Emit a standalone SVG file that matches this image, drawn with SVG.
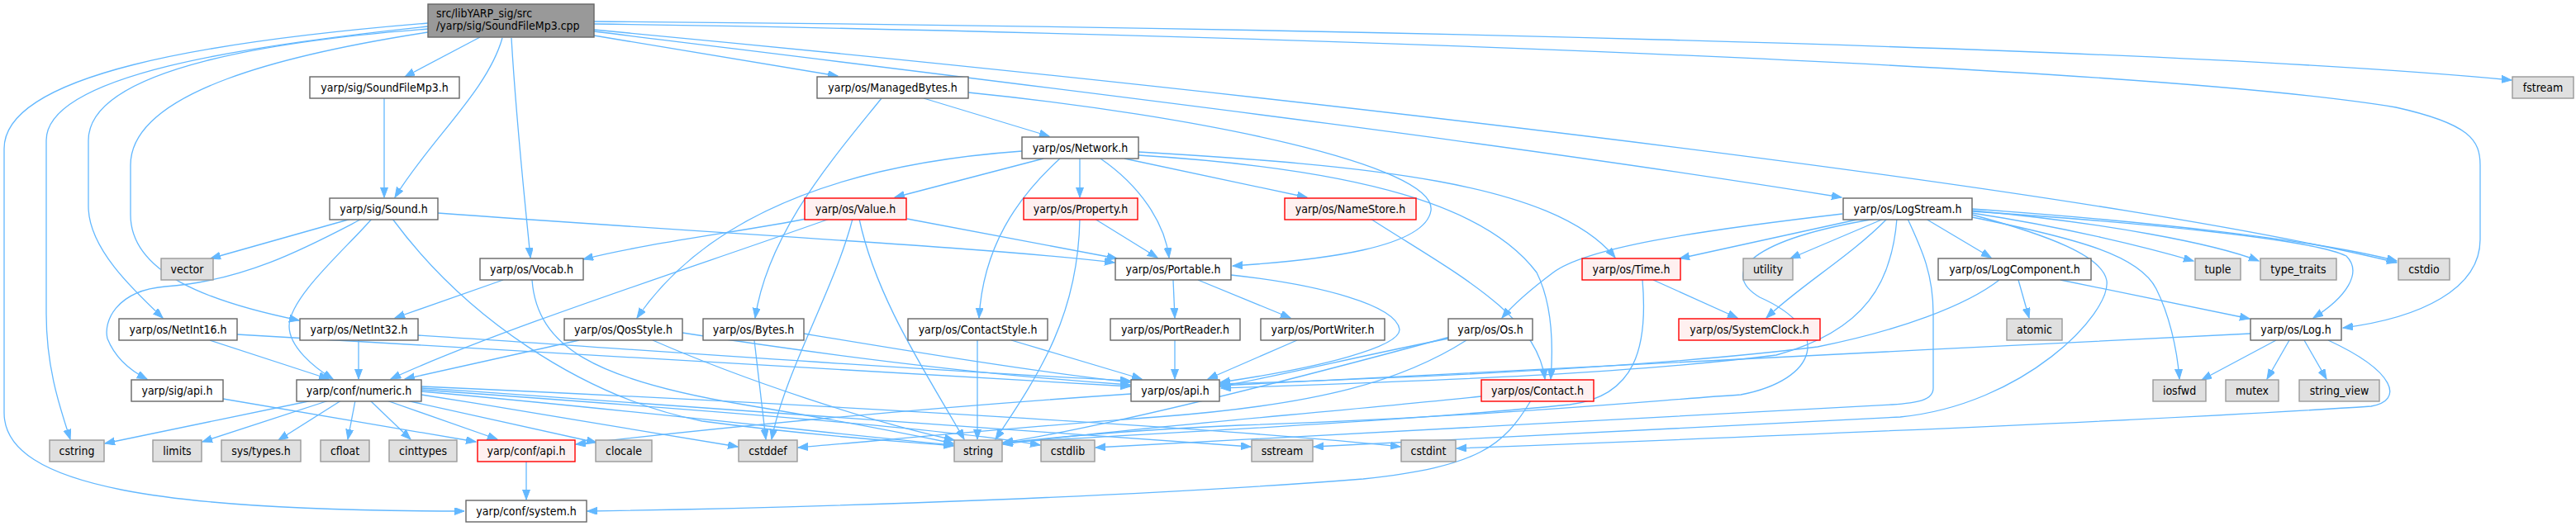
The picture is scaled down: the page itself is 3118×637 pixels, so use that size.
<svg xmlns="http://www.w3.org/2000/svg" width="3118" height="637" viewBox="0 0 3118 637">
<defs>
<marker id="ah" markerUnits="userSpaceOnUse" markerWidth="13" markerHeight="10" refX="12" refY="4.5" orient="auto" viewBox="0 0 13 10">
<path d="M0,0 L12,4.5 L0,9 z" fill="#63b8ff" stroke="#63b8ff" stroke-width="1"/>
</marker>
<style>
.e path{fill:none;stroke:#63b8ff;stroke-width:1.3;marker-end:url(#ah)}
.w rect{fill:#ffffff;stroke:#666666;stroke-width:1.4}
.g rect{fill:#e0e0e0;stroke:#999999;stroke-width:1.4}
.r rect{fill:#fff0f0;stroke:#ff0000;stroke-width:1.4}
.root rect{fill:#999999;stroke:#666666;stroke-width:1.4}
text{font-family:"DejaVu Sans Condensed","DejaVu Sans",sans-serif;font-stretch:condensed;font-size:14px;fill:#000000;text-anchor:middle}
.root text{text-anchor:start}
</style>
</defs>
<rect x="0" y="0" width="3118" height="637" fill="#ffffff"/>
<g id="edges" class="e">
<!-- root -->
<path d="M518,28 C250,50 5,90 5,180 L5,500 C5,590 200,619 562,619"/>
<path d="M518,32 C300,55 56,90 56,170 L56,380 C56,450 75,500 85,532"/>
<path d="M518,35 C350,48 107,80 107,170 L107,250 C107,300 160,350 197,385"/>
<path d="M518,39 C350,65 158,110 158,200 L158,260 C158,330 250,365 362,388"/>
<path d="M581,45 L490,93"/>
<path d="M608,46 C590,110 520,170 478,239"/>
<path d="M619,46 C625,150 636,250 642,312"/>
<path d="M719,43 L1014,92"/>
<path d="M719,38 C1300,110 1800,170 2229,239"/>
<path d="M719,36 C1400,100 2500,220 2901,318"/>
<path d="M719,29 C1500,40 2600,80 2900,130 C2990,150 3002,170 3002,200 L3002,290 C3002,350 2930,385 2836,397"/>
<path d="M719,26 C1500,32 2600,55 3040,97"/>
<!-- SoundFileMp3.h -->
<path d="M465,119 L465,239"/>
<!-- ManagedBytes -->
<path d="M1118,119 L1270,165"/>
<path d="M1067,119 C1010,190 930,280 914,385"/>
<path d="M1172,112 C1450,140 1740,200 1732,255 C1725,300 1600,315 1492,322"/>
<!-- Network -->
<path d="M1263,192 L1083,239"/>
<path d="M1237,183 C1000,200 850,270 771,385"/>
<path d="M1283,192 C1230,240 1190,300 1185,385"/>
<path d="M1307,192 L1307,239"/>
<path d="M1332,192 C1380,225 1410,270 1415,312"/>
<path d="M1361,192 L1582,239"/>
<path d="M1378,184 C1650,200 1880,220 1955,312"/>
<path d="M1378,188 C1650,205 1800,250 1860,330 C1880,370 1880,420 1877,459"/>
<!-- Sound.h -->
<path d="M425,265 L255,313"/>
<path d="M438,265 C380,295 300,340 200,347 C140,352 125,390 130,410 C140,435 160,450 178,459"/>
<path d="M450,265 C420,300 350,360 350,395 C350,420 380,445 403,459"/>
<path d="M475,265 C560,380 700,480 850,510 C1000,530 1100,535 1154,540"/>
<path d="M530,258 C900,285 1200,300 1349,318"/>
<!-- Vocab -->
<path d="M609,339 L478,385"/>
<path d="M644,339 C650,420 720,460 900,490 C1050,515 1120,530 1154,537"/>
<!-- Value -->
<path d="M976,265 C900,280 780,295 706,314"/>
<path d="M1004,265 C850,320 600,400 473,459"/>
<path d="M1032,265 C1010,350 950,450 934,532"/>
<path d="M1040,265 C1060,360 1120,450 1167,532"/>
<path d="M1098,265 L1352,313"/>
<!-- Property -->
<path d="M1307,265 C1305,380 1260,450 1205,532"/>
<path d="M1325,265 L1401,312"/>
<!-- NameStore -->
<path d="M1659,265 C1760,330 1860,380 1870,459"/>
<!-- LogStream -->
<path d="M2230,259 C2050,280 1920,300 1880,330 C1860,345 1835,365 1818,385"/>
<path d="M2252,265 L2033,313"/>
<path d="M2280,265 L2167,313"/>
<path d="M2270,265 C2120,290 2080,330 2130,360 C2220,400 2200,460 2107,478 C2000,485 1800,505 1500,515 C1350,522 1250,532 1214,537"/>
<path d="M2284,265 C2240,310 2180,345 2138,385"/>
<path d="M2296,265 C2290,340 2260,400 2150,430 C1950,455 1700,462 1478,470"/>
<path d="M2309,265 C2325,300 2340,330 2340,380 L2340,470 C2340,485 2320,488 2290,490 C2000,505 1600,528 1326,542"/>
<path d="M2331,265 L2410,312"/>
<path d="M2387,258 C2500,275 2600,300 2655,316"/>
<path d="M2387,255 C2550,270 2680,295 2734,316"/>
<path d="M2387,253 C2600,268 2800,290 2901,316"/>
<path d="M2387,256 C2600,270 2800,290 2840,310 C2860,330 2840,360 2800,385"/>
<path d="M2387,263 C2520,290 2590,310 2610,350 C2625,380 2635,420 2638,459"/>
<path d="M2387,260 C2480,285 2545,310 2550,340 C2555,380 2450,490 2300,505 C2000,520 1750,535 1590,541"/>
<!-- Portable -->
<path d="M1420,339 L1422,385"/>
<path d="M1450,339 L1562,385"/>
<path d="M1490,333 C1600,345 1690,370 1694,399 C1695,420 1600,445 1477,463"/>
<!-- ContactStyle, PortReader, PortWriter -->
<path d="M1224,412 L1382,459"/>
<path d="M1183,412 L1183,532"/>
<path d="M1422,412 L1422,459"/>
<path d="M1570,412 L1462,459"/>
<!-- QosStyle -->
<path d="M701,412 L490,459"/>
<path d="M826,403 C1000,430 1200,455 1368,466"/>
<path d="M790,412 C900,460 1050,510 1155,533"/>
<!-- Bytes -->
<path d="M913,412 L927,532"/>
<path d="M973,404 C1100,425 1250,450 1368,463"/>
<!-- NetInt16 / NetInt32 -->
<path d="M254,412 L398,459"/>
<path d="M287,405 C700,430 1100,455 1368,468"/>
<path d="M434,412 L434,459"/>
<path d="M506,406 C800,425 1100,448 1368,461"/>
<!-- sig/api.h -->
<path d="M270,483 L576,535"/>
<!-- numeric -->
<path d="M378,485 L127,537"/>
<path d="M398,485 L245,535"/>
<path d="M413,485 L337,533"/>
<path d="M430,485 L421,532"/>
<path d="M448,485 L497,532"/>
<path d="M468,485 L602,532"/>
<path d="M492,485 L722,536"/>
<path d="M510,478 C650,500 800,525 893,541"/>
<path d="M510,474 C800,500 1000,525 1154,539"/>
<path d="M510,472 C900,500 1150,520 1259,539"/>
<path d="M510,470 C900,495 1300,525 1514,541"/>
<path d="M510,468 C1000,490 1500,520 1695,541"/>
<!-- os/api.h -->
<path d="M1369,477 C1100,495 850,520 697,538"/>
<!-- Contact -->
<path d="M1793,480 C1600,500 1350,520 1214,538"/>
<path d="M1853,485 C1820,540 1790,565 1650,580 C1400,600 1000,615 711,619"/>
<!-- conf/api.h -->
<path d="M637,559 L637,605"/>
<!-- Time -->
<path d="M2001,339 L2103,385"/>
<path d="M1988,339 C1995,420 1980,480 1900,490 C1700,510 1400,525 1214,536"/>
<!-- Os -->
<path d="M1753,410 C1650,430 1550,455 1477,468"/>
<path d="M1755,408 C1600,450 1350,515 1214,536"/>
<path d="M1775,412 C1700,460 1600,490 1400,505 C1200,520 1050,535 966,542"/>
<!-- Log -->
<path d="M2724,404 C2300,425 1800,450 1477,467"/>
<path d="M2755,412 L2665,460"/>
<path d="M2771,412 L2744,459"/>
<path d="M2789,412 L2816,459"/>
<path d="M2818,412 C2900,450 2910,485 2870,492 C2600,510 2100,530 1763,543"/>
<!-- LogComponent -->
<path d="M2443,339 L2456,385"/>
<path d="M2494,339 L2723,386"/>
<path d="M2420,339 C2380,370 2300,400 2200,420 C2000,445 1700,458 1477,465"/>
</g>
<g id="n_root" class="root"><rect x="518" y="5" width="201" height="40"/><text x="528" y="21">src/libYARP_sig/src</text><text x="528" y="36">/yarp/sig/SoundFileMp3.cpp</text></g>
<g id="n_sfmp3h" class="w"><rect x="375" y="93" width="181" height="26"/><text x="465.5" y="110.5">yarp/sig/SoundFileMp3.h</text></g>
<g id="n_managed" class="w"><rect x="989" y="93" width="183" height="26"/><text x="1080.5" y="110.5">yarp/os/ManagedBytes.h</text></g>
<g id="n_fstream" class="g"><rect x="3041" y="93" width="74" height="26"/><text x="3078" y="110.5">fstream</text></g>
<g id="n_network" class="w"><rect x="1237" y="166" width="141" height="26"/><text x="1307.5" y="183.5">yarp/os/Network.h</text></g>
<g id="n_sound" class="w"><rect x="399" y="240" width="131" height="26"/><text x="464.5" y="257.5">yarp/sig/Sound.h</text></g>
<g id="n_value" class="r"><rect x="974" y="240" width="123" height="26"/><text x="1035.5" y="257.5">yarp/os/Value.h</text></g>
<g id="n_property" class="r"><rect x="1239" y="240" width="138" height="26"/><text x="1308" y="257.5">yarp/os/Property.h</text></g>
<g id="n_namestore" class="r"><rect x="1555" y="240" width="159" height="26"/><text x="1634.5" y="257.5">yarp/os/NameStore.h</text></g>
<g id="n_logstream" class="w"><rect x="2231" y="240" width="156" height="26"/><text x="2309" y="257.5">yarp/os/LogStream.h</text></g>
<g id="n_vector" class="g"><rect x="195" y="313" width="63" height="26"/><text x="226.5" y="330.5">vector</text></g>
<g id="n_vocab" class="w"><rect x="581" y="313" width="125" height="26"/><text x="643.5" y="330.5">yarp/os/Vocab.h</text></g>
<g id="n_portable" class="w"><rect x="1350" y="313" width="140" height="26"/><text x="1420" y="330.5">yarp/os/Portable.h</text></g>
<g id="n_time" class="r"><rect x="1915" y="313" width="119" height="26"/><text x="1974.5" y="330.5">yarp/os/Time.h</text></g>
<g id="n_utility" class="g"><rect x="2110" y="313" width="60" height="26"/><text x="2140" y="330.5">utility</text></g>
<g id="n_logcomp" class="w"><rect x="2346" y="313" width="185" height="26"/><text x="2438.5" y="330.5">yarp/os/LogComponent.h</text></g>
<g id="n_tuple" class="g"><rect x="2657" y="313" width="55" height="26"/><text x="2684.5" y="330.5">tuple</text></g>
<g id="n_typetraits" class="g"><rect x="2736" y="313" width="92" height="26"/><text x="2782" y="330.5">type_traits</text></g>
<g id="n_cstdio" class="g"><rect x="2903" y="313" width="62" height="26"/><text x="2934" y="330.5">cstdio</text></g>
<g id="n_netint16" class="w"><rect x="144" y="386" width="143" height="26"/><text x="215.5" y="403.5">yarp/os/NetInt16.h</text></g>
<g id="n_netint32" class="w"><rect x="363" y="386" width="143" height="26"/><text x="434.5" y="403.5">yarp/os/NetInt32.h</text></g>
<g id="n_qos" class="w"><rect x="683" y="386" width="143" height="26"/><text x="754.5" y="403.5">yarp/os/QosStyle.h</text></g>
<g id="n_bytes" class="w"><rect x="851" y="386" width="122" height="26"/><text x="912" y="403.5">yarp/os/Bytes.h</text></g>
<g id="n_contactstyle" class="w"><rect x="1099" y="386" width="169" height="26"/><text x="1183.5" y="403.5">yarp/os/ContactStyle.h</text></g>
<g id="n_portreader" class="w"><rect x="1344" y="386" width="157" height="26"/><text x="1422.5" y="403.5">yarp/os/PortReader.h</text></g>
<g id="n_portwriter" class="w"><rect x="1526" y="386" width="150" height="26"/><text x="1601" y="403.5">yarp/os/PortWriter.h</text></g>
<g id="n_os" class="w"><rect x="1753" y="386" width="102" height="26"/><text x="1804" y="403.5">yarp/os/Os.h</text></g>
<g id="n_sysclock" class="r"><rect x="2032" y="386" width="171" height="26"/><text x="2117.5" y="403.5">yarp/os/SystemClock.h</text></g>
<g id="n_atomic" class="g"><rect x="2429" y="386" width="67" height="26"/><text x="2462.5" y="403.5">atomic</text></g>
<g id="n_log" class="w"><rect x="2724" y="386" width="110" height="26"/><text x="2779" y="403.5">yarp/os/Log.h</text></g>
<g id="n_sigapi" class="w"><rect x="159" y="460" width="111" height="26"/><text x="214.5" y="477.5">yarp/sig/api.h</text></g>
<g id="n_numeric" class="w"><rect x="359" y="460" width="151" height="26"/><text x="434.5" y="477.5">yarp/conf/numeric.h</text></g>
<g id="n_osapi" class="w"><rect x="1369" y="460" width="107" height="26"/><text x="1422.5" y="477.5">yarp/os/api.h</text></g>
<g id="n_contact" class="r"><rect x="1793" y="460" width="136" height="26"/><text x="1861" y="477.5">yarp/os/Contact.h</text></g>
<g id="n_iosfwd" class="g"><rect x="2606" y="460" width="64" height="26"/><text x="2638" y="477.5">iosfwd</text></g>
<g id="n_mutex" class="g"><rect x="2694" y="460" width="64" height="26"/><text x="2726" y="477.5">mutex</text></g>
<g id="n_stringview" class="g"><rect x="2783" y="460" width="97" height="26"/><text x="2831.5" y="477.5">string_view</text></g>
<g id="n_cstring" class="g"><rect x="60" y="533" width="66" height="26"/><text x="93" y="550.5">cstring</text></g>
<g id="n_limits" class="g"><rect x="185" y="533" width="59" height="26"/><text x="214.5" y="550.5">limits</text></g>
<g id="n_systypes" class="g"><rect x="268" y="533" width="96" height="26"/><text x="316" y="550.5">sys/types.h</text></g>
<g id="n_cfloat" class="g"><rect x="388" y="533" width="59" height="26"/><text x="417.5" y="550.5">cfloat</text></g>
<g id="n_cinttypes" class="g"><rect x="471" y="533" width="82" height="26"/><text x="512" y="550.5">cinttypes</text></g>
<g id="n_confapi" class="r"><rect x="578" y="533" width="118" height="26"/><text x="637" y="550.5">yarp/conf/api.h</text></g>
<g id="n_clocale" class="g"><rect x="721" y="533" width="68" height="26"/><text x="755" y="550.5">clocale</text></g>
<g id="n_cstddef" class="g"><rect x="894" y="533" width="71" height="26"/><text x="929.5" y="550.5">cstddef</text></g>
<g id="n_string" class="g"><rect x="1155" y="533" width="58" height="26"/><text x="1184" y="550.5">string</text></g>
<g id="n_cstdlib" class="g"><rect x="1260" y="533" width="65" height="26"/><text x="1292.5" y="550.5">cstdlib</text></g>
<g id="n_sstream" class="g"><rect x="1515" y="533" width="74" height="26"/><text x="1552" y="550.5">sstream</text></g>
<g id="n_cstdint" class="g"><rect x="1696" y="533" width="66" height="26"/><text x="1729" y="550.5">cstdint</text></g>
<g id="n_system" class="w"><rect x="564" y="606" width="146" height="26"/><text x="637" y="623.5">yarp/conf/system.h</text></g>
</svg>
